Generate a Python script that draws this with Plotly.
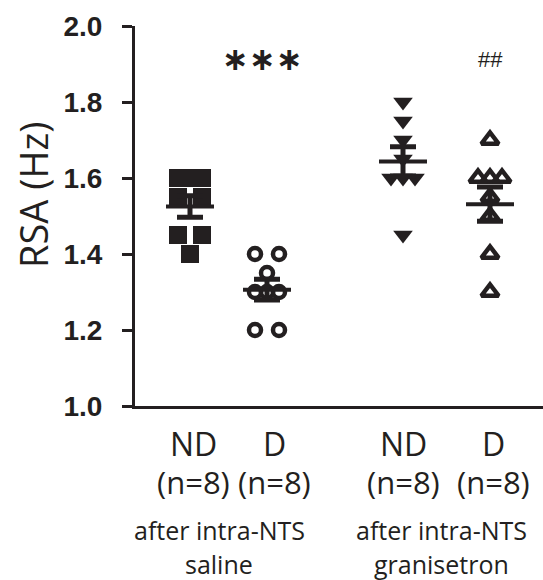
import numpy as np
import plotly.graph_objects as go

# Group labels and treatment labels
group_labels = ["ND", "D", "ND", "D"]
group_sizes = ["(n=8)", "(n=8)", "(n=8)", "(n=8)"]
treatment_lines = [["after intra-NTS", "saline"], ["after intra-NTS", "granisetron"]]

# RSA (Hz) per animal
nd_saline = [1.60, 1.60, 1.60, 1.55, 1.55, 1.45, 1.45, 1.40]
d_saline = [1.40, 1.40, 1.35, 1.30, 1.30, 1.30, 1.20, 1.20]
nd_granisetron = [1.80, 1.75, 1.70, 1.65, 1.60, 1.60, 1.60, 1.45]
d_granisetron = [1.70, 1.60, 1.60, 1.60, 1.55, 1.50, 1.40, 1.30]

# Significance marks above groups: "***" vs ND saline, "##" vs D saline
sig_marks = ["", "***", "", "##"]

y_ticks = [1.0, 1.2, 1.4, 1.6, 1.8, 2.0]

# ---- layout / style ----
INK = "#231F20"
W, H = 543, 580
L, R, T, B = 135, 0, 26, 174
PLOT_W = W - L - R
PLOT_H = H - T - B

# x axis is in pixel-like units across the plot area
group_x = [55, 132, 268, 355]
label_shift = [3, 7, 0, 3]
treat_x = [84, 306]

series = [nd_saline, d_saline, nd_granisetron, d_granisetron]
markers = [
    dict(symbol="square", size=18, color=INK, line=dict(width=0)),
    dict(symbol="circle-open", size=12, color=INK, line=dict(width=4.5, color=INK)),
    dict(symbol="triangle-down", size=17, color=INK, line=dict(width=0)),
    dict(symbol="triangle-up-open", size=15, color=INK, line=dict(width=4.5, color=INK)),
]
SPREAD = 12      # horizontal spacing of tied points
MEAN_HALF = 24   # half length of mean bar
STAR_GAP = 27    # spacing between asterisks


def scatter_offsets(values, step):
    """Spread tied values sideways: odd counts centred, even counts paired."""
    vals = np.asarray(values)
    offs = np.zeros(len(vals))
    for v in np.unique(vals):
        idx = np.where(np.isclose(vals, v))[0]
        k = len(idx)
        if k % 2:
            seq = [0] + [s * m for m in range(1, k) for s in (1, -1)]
        else:
            seq = [s * m for m in range(1, k) for s in (1, -1)]
        for i, j in enumerate(idx):
            offs[j] = seq[i] * step
    return offs


def px_to_paper_y(py):
    return (H - B - py) / PLOT_H


def px_to_paper_x(px):
    return (px - L) / PLOT_W


fig = go.Figure()

for vals, x0, mk in zip(series, group_x, markers):
    xs = x0 + scatter_offsets(vals, SPREAD)
    fig.add_trace(go.Scatter(x=xs, y=vals, mode="markers", marker=mk,
                             showlegend=False, cliponaxis=False, hoverinfo="y"))

# mean ± SEM
for vals, x0 in zip(series, group_x):
    arr = np.asarray(vals)
    mean = arr.mean()
    sem = arr.std(ddof=1) / np.sqrt(len(arr))
    fig.add_trace(go.Scatter(x=[x0 - MEAN_HALF, x0 + MEAN_HALF], y=[mean, mean],
                             mode="lines", line=dict(color=INK, width=4),
                             showlegend=False, cliponaxis=False, hoverinfo="skip"))
    fig.add_trace(go.Scatter(x=[x0], y=[mean], mode="markers",
                             marker=dict(size=1, color=INK, opacity=0),
                             error_y=dict(type="data", array=[sem], visible=True,
                                          color=INK, thickness=5, width=13),
                             showlegend=False, cliponaxis=False, hoverinfo="skip"))

annotations = []
font_lbl = "Open Sans, Noto Sans, sans-serif"

# y-axis title
annotations.append(dict(text="RSA (Hz)", xref="paper", yref="paper",
                        x=px_to_paper_x(33), y=px_to_paper_y(195), textangle=-90,
                        showarrow=False, xanchor="center", yanchor="middle",
                        font=dict(family=font_lbl, size=38, color=INK)))

for gx, sh, gl, gn, sig in zip(group_x, label_shift, group_labels, group_sizes, sig_marks):
    annotations.append(dict(text=gl, x=gx + sh, xref="x", yref="paper",
                            y=px_to_paper_y(443), showarrow=False,
                            xanchor="center", yanchor="middle",
                            font=dict(family=font_lbl, size=32, color=INK)))
    annotations.append(dict(text=gn, x=gx + sh, xref="x", yref="paper",
                            y=px_to_paper_y(482), showarrow=False,
                            xanchor="center", yanchor="middle",
                            font=dict(family=font_lbl, size=31, color=INK)))
    if sig.startswith("*"):
        n = len(sig)
        for k in range(n):
            annotations.append(dict(text="∗", x=gx - 5 + (k - (n - 1) / 2) * STAR_GAP,
                                    xref="x", yref="paper",
                                    y=px_to_paper_y(59), showarrow=False,
                                    xanchor="center", yanchor="middle",
                                    font=dict(family="DejaVu Sans", size=32, color=INK,
                                              weight="bold")))
    elif sig:
        annotations.append(dict(text=sig, x=gx, xref="x", yref="paper",
                                y=px_to_paper_y(59), showarrow=False,
                                xanchor="center", yanchor="middle",
                                font=dict(family="Liberation Sans", size=22, color=INK)))

for tx, lines in zip(treat_x, treatment_lines):
    for line_txt, py in zip(lines, [530, 564]):
        annotations.append(dict(text=line_txt, x=tx, xref="x", yref="paper",
                                y=px_to_paper_y(py), showarrow=False,
                                xanchor="center", yanchor="middle",
                                font=dict(family=font_lbl, size=25, color=INK)))

fig.update_layout(
    width=W, height=H,
    margin=dict(l=L, r=R, t=T, b=B, pad=0),
    paper_bgcolor="white", plot_bgcolor="white",
    annotations=annotations,
    xaxis=dict(range=[0, PLOT_W], showgrid=False, zeroline=False,
               showline=True, linecolor=INK, linewidth=3,
               showticklabels=False, ticks=""),
    yaxis=dict(range=[1.0, 2.0], tickvals=y_ticks, tickformat=".1f",
               showgrid=False, zeroline=False,
               showline=True, linecolor=INK, linewidth=3,
               ticks="outside", ticklen=10, tickwidth=3, tickcolor=INK,
               ticklabelstandoff=14,
               tickfont=dict(family="Liberation Sans, Arial, sans-serif",
                             size=28, color=INK, weight="bold")),
)

fig.write_html("out.html")
